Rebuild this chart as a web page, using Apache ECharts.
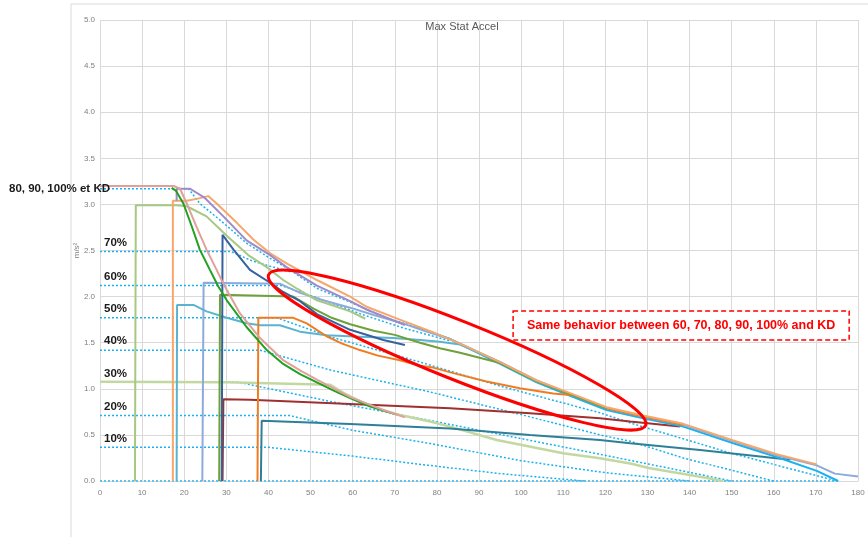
<!DOCTYPE html>
<html><head><meta charset="utf-8">
<script src="https://cdn.jsdelivr.net/npm/echarts@6/dist/echarts.min.js"></script>
<style>html,body{margin:0;padding:0;background:#fff}#c{width:868px;height:537px}</style>
</head><body><div id="c"></div>
<script>
// ---------- data ----------
const titleText = 'Max Stat Accel';
const yAxisName = 'm/s\u00B2';
const xMin = 0, xMax = 180, xStep = 10;
const yMin = 0, yMax = 5, yStep = 0.5;

// dotted limit lines (cyan)
const lim0   = [[0,0],[175.3,0]];
const lim10  = [[0,0.365],[40,0.365],[60,0.27],[78,0.17],[95,0.08],[115,0]];
const lim20  = [[0,0.71],[45,0.71],[60,0.55],[78,0.41],[100,0.22],[120,0.09],[140,0]];
const lim30  = [[0,1.07],[33,1.07],[55,0.86],[78,0.66],[100,0.46],[118.7,0.29],[135,0.14],[150,0]];
const lim40  = [[0,1.418],[38,1.418],[55,1.2],[78,0.97],[100,0.72],[118.7,0.5],[126,0.43],[138.5,0.25],[160,0]];
const lim50  = [[0,1.77],[42,1.77],[55,1.56],[76,1.29],[95,1.03],[118.7,0.74],[126.6,0.62],[150,0.3],[175,0]];
const lim60  = [[0,2.12],[43,2.12],[52,1.98],[62,1.81],[72,1.66],[83.1,1.52]];
const lim70  = [[0,2.49],[31,2.49],[36,2.39],[40.4,2.33],[45.1,2.27]];
const lim100 = [[0,3.17],[21,3.17],[23.7,3.01],[29.3,2.8],[34.8,2.58],[40.4,2.415],[45.1,2.29],[51.5,2.09],[59.4,1.94],[67.3,1.78],[75.2,1.67],[83.1,1.54]];
const limTail = [[75.2,1.67],[83.1,1.54],[95,1.27],[103.7,1.07],[112.4,0.91],[120.3,0.77],[129,0.68],[138.5,0.59],[150.4,0.41],[160.7,0.26],[170.2,0.11],[175.3,0]];

// measured curves
const lightGreenTop = [[8.3,0],[8.5,2.99],[18.2,2.99],[20.6,2.98],[25.3,2.87],[30.1,2.66],[35.2,2.45],[39.6,2.32],[43.5,2.18],[47,2.08],[51.5,1.96],[55.5,1.9],[59.4,1.84],[63,1.76]];
const orangeLight = [[17.3,0],[17.3,3.04],[20.6,3.04],[23,3.06],[25.7,3.09],[27.7,3.01],[32.5,2.8],[36.4,2.62],[40.4,2.47],[44.3,2.36],[51.5,2.18],[59.4,2.0],[63.3,1.89],[71.2,1.75],[79.2,1.61],[85.5,1.49],[95,1.29],[103.7,1.09],[112.4,0.94],[120.3,0.8],[129,0.71],[138.5,0.62],[150.4,0.44],[160.7,0.29],[170.2,0.18]];
const purple = [[18.2,3.04],[18.2,3.17],[21.4,3.17],[24.9,3.07],[29.3,2.87],[34.8,2.61],[40.4,2.45],[44.3,2.32],[51.5,2.12],[59.4,1.95],[63.3,1.86],[72.4,1.69]];
const salmon = [[0,3.2],[17.5,3.2],[19,3.17],[20.6,3.01],[22.9,2.76],[25.3,2.51],[27.7,2.29],[29.3,2.14],[33.2,1.82],[38,1.55],[43.5,1.31],[47.5,1.2],[51.5,1.1],[59.4,0.91],[67.3,0.77],[72.4,0.69]];
const darkGreen = [[17,3.18],[18,3.15],[19.8,3.01],[21.8,2.76],[23.7,2.51],[26.1,2.29],[28.1,2.11],[30.1,1.96],[34.8,1.67],[39.6,1.42],[43.5,1.27],[47.5,1.16],[51.5,1.07],[55.5,0.98],[59.4,0.9],[64,0.81],[70.4,0.72]];
const darkBlue = [[28.9,0],[29.1,2.67],[31.7,2.51],[35.6,2.29],[40.4,2.15],[43.5,2.05],[47.5,1.95],[51.5,1.81],[59.4,1.64],[67.3,1.53],[72.4,1.475]];
const lightBlue = [[24.3,0],[24.6,2.15],[42.7,2.14],[47.5,2.04],[53,1.96],[59.4,1.88],[65,1.8],[71.2,1.72],[77,1.63],[83.1,1.54],[95,1.29],[103.7,1.09],[112.4,0.93],[120.3,0.79],[129,0.70],[138.5,0.61],[150.4,0.43],[160.7,0.28],[170.2,0.17],[174.5,0.08],[180,0.05]];
const olive = [[28.3,0],[28.5,2.02],[45.9,2.0],[50.7,1.87],[55,1.77],[59.4,1.7],[65,1.63],[70,1.585],[76,1.5],[80.7,1.44],[85.5,1.39],[95,1.28],[103.7,1.08],[112.4,0.93],[120.3,0.79]];
const turquoise = [[18.2,0],[18.3,1.91],[22.2,1.91],[25.3,1.84],[30.1,1.77],[34.8,1.71],[38,1.69],[42.7,1.69],[47.5,1.62],[53.8,1.58],[61.7,1.565],[69.6,1.55],[76,1.53],[80.7,1.51],[85.5,1.48],[95,1.29],[103.7,1.08],[112.4,0.93],[120.3,0.79]];
const orange = [[37.4,0],[37.6,1.77],[45.9,1.77],[49.1,1.71],[53.8,1.57],[57.5,1.49],[61.7,1.42],[66,1.36],[71.2,1.31],[76,1.25],[79.1,1.23],[83.9,1.17],[91.8,1.08],[99.7,1.005],[107.6,0.95],[112.4,0.93],[120.3,0.79],[129,0.70],[138.5,0.61]];
const darkRed = [[29.1,0],[29.3,0.886],[35.6,0.88],[59.4,0.835],[83.1,0.79],[102.1,0.734],[118.7,0.68],[125.9,0.645],[137.7,0.59]];
const darkTeal = [[38.2,0],[38.4,0.654],[59.4,0.618],[83.1,0.57],[102.1,0.5],[118.7,0.445],[125.9,0.41],[142.5,0.336],[163.9,0.23]];
const paleGreen = [[0,1.077],[30,1.07],[54.6,1.045],[58,0.95],[63.3,0.83],[67,0.77],[71.2,0.716],[78.4,0.645],[83.1,0.59],[94.2,0.445],[110,0.3],[118.7,0.246],[125.9,0.19],[130.6,0.138],[142.5,0.047],[148,0]];

// annotation texts
const levelLabels = [['70%',2.49],['60%',2.12],['50%',1.77],['40%',1.418],['30%',1.07],['20%',0.71],['10%',0.365]];
const topLabel = ['80, 90, 100% et KD', 3.17];
const boxText = 'Same behavior between 60, 70, 80, 90, 100% and KD';
const boxCorners = [[98.1,1.845],[177.9,1.53]];
const ellipseCenter = [84.8,1.42];

// ---------- chart ----------
const CY = '#19b2ef';
function ln(data, color, width, dotted, z) {
  return {type:'line', data:data, showSymbol:false, symbol:'none', silent:true,
    lineStyle:{color:color, width:width, type: dotted ? [2,2] : 'solid', cap:'butt'},
    z: z || 2, animation:false};
}
const chart = echarts.init(document.getElementById('c'), null, {renderer:'canvas'});
chart.setOption({
  animation:false,
  backgroundColor:'#ffffff',
  title:{text:titleText, left:462, top:21, padding:0, textAlign:'center',
    textStyle:{fontFamily:'Liberation Sans', fontSize:11, fontWeight:'normal', color:'#595959'}},
  grid:{left:100, right:10, top:20, bottom:56, containLabel:false},
  xAxis:{type:'value', min:xMin, max:xMax, interval:xStep,
    axisLine:{show:true, lineStyle:{color:'#d9d9d9'}}, axisTick:{show:false},
    axisLabel:{color:'#7f7f7f', fontSize:8, fontFamily:'Liberation Sans', margin:8},
    splitLine:{show:true, lineStyle:{color:'#d9d9d9', width:1}}},
  yAxis:{type:'value', min:yMin, max:yMax, interval:yStep,
    axisLine:{show:false}, axisTick:{show:false},
    axisLabel:{color:'#7f7f7f', fontSize:8, fontFamily:'Liberation Sans', margin:5, formatter:v=>v.toFixed(1)},
    splitLine:{show:true, lineStyle:{color:'#d9d9d9', width:1}}},
  series:[
    ln(lim0, CY, 1.5, true), ln(lim10, CY, 1.5, true), ln(lim20, CY, 1.5, true),
    ln(lim30, CY, 1.5, true), ln(lim40, CY, 1.5, true), ln(lim50, CY, 1.5, true),
    ln(lim60, CY, 1.5, true), ln(lim70, CY, 1.5, true), ln(lim100, CY, 1.5, true),
    ln(paleGreen, '#c3d8a0', 2.5, false, 3),
    ln(darkTeal, '#2e7f97', 2, false, 3),
    ln(darkRed, '#a0302f', 2, false, 3),
    ln(limTail, CY, 2, false, 3),
    ln(lightBlue, '#8eaadb', 2, false, 3),
    ln(turquoise, '#5ab4cf', 2, false, 3),
    ln(orange, '#f07c22', 2, false, 3),
    ln(olive, '#6fa03a', 2, false, 3),
    ln(lightGreenTop, '#a5c882', 2, false, 3),
    ln(darkBlue, '#36609e', 2, false, 3),
    ln(orangeLight, '#f5a76c', 2, false, 3),
    ln(purple, '#9d8bc8', 2, false, 3),
    ln(darkGreen, '#22a022', 2, false, 4),
    ln(salmon, '#e0a09c', 2, false, 4)
  ]
});

const P = p => chart.convertToPixel({gridIndex:0}, p);
const g = [];
g.push({type:'rect', shape:{x:71, y:4, width:820, height:560}, style:{fill:'none', stroke:'#d9d9d9', lineWidth:1}, z:0, silent:true});
const mid = P([0, 2.5]);
g.push({type:'text', x:mid[0]-23, y:mid[1], rotation:Math.PI/2, style:{text:yAxisName, align:'center', verticalAlign:'middle', font:'8px "Liberation Sans"', fill:'#7f7f7f'}, z:10});
const tl = P([0, topLabel[1]]);
g.push({type:'text', x:tl[0]+10, y:tl[1], style:{text:topLabel[0], align:'right', verticalAlign:'middle', font:'bold 11.5px "Liberation Sans"', fill:'#1a1a1a'}, z:10});
levelLabels.forEach(([t, lv]) => {
  const p = P([0, lv]);
  g.push({type:'text', x:p[0]+4, y:p[1]-9, style:{text:t, align:'left', verticalAlign:'middle', font:'bold 11.5px "Liberation Sans"', fill:'#1a1a1a'}, z:10});
});
const c = P(ellipseCenter);
g.push({type:'ellipse', shape:{cx:0, cy:0, rx:203, ry:29}, x:c[0], y:c[1], rotation:-0.38,
  style:{fill:'none', stroke:'#ff0000', lineWidth:3}, z:20, silent:true});
const b0 = P(boxCorners[0]), b1 = P(boxCorners[1]);
g.push({type:'rect', shape:{x:b0[0], y:b0[1], width:b1[0]-b0[0], height:b1[1]-b0[1]},
  style:{fill:'#ffffff', stroke:'#ff0000', lineWidth:1.5, lineDash:[5,3]}, z:20, silent:true});
g.push({type:'text', x:(b0[0]+b1[0])/2, y:(b0[1]+b1[1])/2, style:{text:boxText, align:'center', verticalAlign:'middle', font:'bold 12.5px "Liberation Sans"', fill:'#ff0000'}, z:21});
chart.setOption({graphic:g});
</script></body></html>
